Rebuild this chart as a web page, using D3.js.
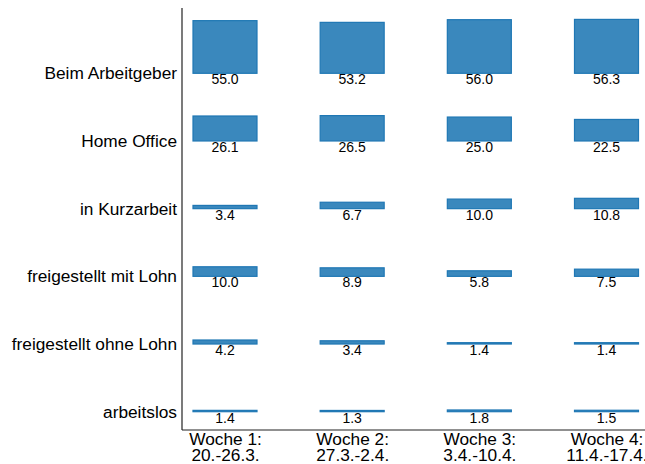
<!DOCTYPE html>
<html>
<head>
<meta charset="utf-8">
<script src="https://cdn.jsdelivr.net/npm/d3@7"></script>
<style>
  body { margin: 0; background: #fff; }
  text { font-family: "Liberation Sans", Arial, sans-serif; fill: #000; }
</style>
</head>
<body>
<div id="chart"></div>
<script>
// Categories (rows) and weeks (columns)
const categories = ["Beim Arbeitgeber", "Home Office", "in Kurzarbeit",
    "freigestellt mit Lohn", "freigestellt ohne Lohn", "arbeitslos"];
const weeks = ["Woche 1:", "Woche 2:", "Woche 3:", "Woche 4:"];
const weekDates = ["20.-26.3.", "27.3.-2.4.", "3.4.-10.4.", "11.4.-17.4."];

// Values per week, in the order of categories
const week1 = [55.0, 26.1, 3.4, 10.0, 4.2, 1.4];
const week2 = [53.2, 26.5, 6.7, 8.9, 3.4, 1.3];
const week3 = [56.0, 25.0, 10.0, 5.8, 1.4, 1.8];
const week4 = [56.3, 22.5, 10.8, 7.5, 1.4, 1.5];
const series = [week1, week2, week3, week4];

const width = 645, height = 464;
const plot = { left: 182, top: 8, bottom: 430, right: 645 };

const svg = d3.select("#chart")
    .append("svg")
    .attr("width", width)
    .attr("height", height);

// Column and row positions
const x = d3.scalePoint()
    .domain(weeks)
    .range([225, 606.5]);

const y = d3.scalePoint()
    .domain(categories)
    .range([73.3, 411.7]);

// bar height in px per value unit
const h = d3.scaleLinear()
    .domain([0, 56.3])
    .range([0, 53.9]);

const barWidth = 64;

// Flatten the data
const cells = [];
series.forEach(function (vals, i) {
    vals.forEach(function (v, j) {
        cells.push({ week: weeks[i], cat: categories[j], value: v });
    });
});

// Bars
svg.append("g")
    .selectAll("rect")
    .data(cells)
    .join("rect")
    .attr("x", d => x(d.week) - barWidth / 2)
    .attr("y", d => y(d.cat) - h(d.value))
    .attr("width", barWidth)
    .attr("height", d => h(d.value))
    .attr("fill", "#1f77b4")
    .attr("fill-opacity", 0.88)
    .attr("stroke", "#1f77b4")
    .attr("stroke-width", 1.2);

// Value labels below bars
svg.append("g")
    .selectAll("text")
    .data(cells)
    .join("text")
    .attr("x", d => x(d.week))
    .attr("y", d => y(d.cat) + 11)
    .attr("text-anchor", "middle")
    .style("font-size", "14px")
    .text(d => d.value.toFixed(1));

// Y axis (category labels)
const yAxis = svg.append("g")
    .attr("transform", `translate(${plot.left},0)`)
    .call(d3.axisLeft(y).tickSize(0).tickPadding(5));
yAxis.select(".domain").remove();
yAxis.selectAll("text")
    .style("font-size", "17.3px")
    .attr("font-family", null);

// X axis (week labels, two lines)
const xAxis = svg.append("g")
    .attr("transform", `translate(0,${plot.bottom})`)
    .call(d3.axisBottom(x).tickSize(0).tickFormat(""));
xAxis.select(".domain").remove();
xAxis.selectAll(".tick")
    .append("text")
    .attr("text-anchor", "middle")
    .style("font-size", "17.3px")
    .each(function (d, i) {
        const t = d3.select(this);
        t.append("tspan").attr("x", 0).attr("y", 15).text(weeks[i]);
        t.append("tspan").attr("x", 0).attr("y", 31).text(weekDates[i]);
    });

// Spines
svg.append("line")
    .attr("x1", plot.left).attr("x2", plot.left)
    .attr("y1", plot.top).attr("y2", plot.bottom)
    .attr("stroke", "#222").attr("stroke-width", 1.2);
svg.append("line")
    .attr("x1", plot.left).attr("x2", plot.right)
    .attr("y1", plot.bottom).attr("y2", plot.bottom)
    .attr("stroke", "#222").attr("stroke-width", 1.2);
</script>
</body>
</html>
